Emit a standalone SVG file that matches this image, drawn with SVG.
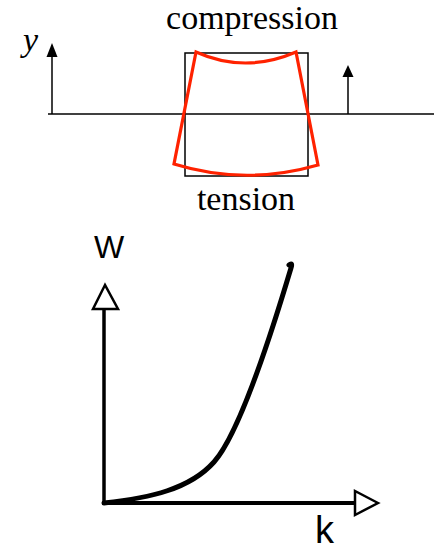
<svg xmlns="http://www.w3.org/2000/svg" width="434" height="551" viewBox="0 0 434 551">
<style>
.serif{font-family:"Liberation Serif","Times New Roman",serif;font-size:34px;fill:#000}
.sans{font-family:"Liberation Sans",Arial,sans-serif;fill:#000}
.thin{stroke:#000;stroke-width:1.5;fill:none}
.axis{stroke:#000;fill:none}
.open{stroke:#000;stroke-width:2.5;fill:#fff;stroke-linejoin:miter}
</style>
<rect width="434" height="551" fill="#fff"/>
<g id="beam">
<line class="thin" x1="48" y1="114" x2="434" y2="114"/>
<rect class="thin" x="185" y="53" width="123" height="123"/>
<path d="M196,52 Q245,74 296,52 L318,165 Q245,186 174,164 Z" fill="none" stroke="#ff2200" stroke-width="3.2" stroke-linejoin="miter"/>
<line class="thin" x1="52" y1="114" x2="52" y2="56"/>
<polygon points="52,43 46.5,57 57.5,57" fill="#000"/>
<line class="thin" x1="348" y1="114" x2="348" y2="76"/>
<polygon points="348,65 342.5,77 353.5,77" fill="#000"/>
<text class="serif" x="252" y="29" text-anchor="middle">compression</text>
<text class="serif" x="246" y="210" text-anchor="middle">tension</text>
<text class="serif" x="23" y="51" font-style="italic">y</text>
</g>
<g id="chart">
<line class="axis" x1="104" y1="505" x2="104" y2="308" stroke-width="3.5"/>
<line class="axis" x1="102" y1="503" x2="356" y2="503" stroke-width="4"/>
<polygon class="open" points="105,285 93,309 118,309"/>
<polygon class="open" points="378,503 355,491 355,515"/>
<path d="M104,503 C150,498 190,489 214,462 S268,345 291,268 Q293,262 289,265" fill="none" stroke="#000" stroke-width="5" stroke-linecap="round" stroke-linejoin="round"/>
<text class="sans" x="94" y="258" font-size="32">W</text>
<text class="sans" x="315" y="543" font-size="38">k</text>
</g>
</svg>
